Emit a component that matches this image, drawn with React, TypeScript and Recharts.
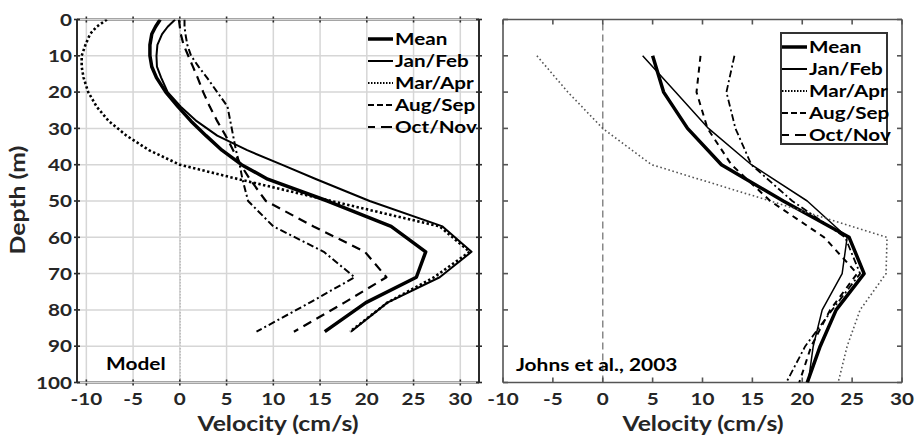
import React from 'react';
import { LineChart, Line, XAxis, YAxis, ReferenceLine } from 'recharts';

// ---------- Data: Model panel ----------
const modelDepth = [0, 2, 4, 7, 10, 13, 16, 20, 24, 28, 32, 36, 40, 44, 50, 57, 64, 71, 78, 86];
const modelMean = [-2.1, -2.6, -3.0, -3.2, -3.2, -3.0, -2.5, -1.5, -0.2, 1.2, 2.8, 4.5, 6.6, 9.4, 15.8, 22.6, 26.3, 25.3, 19.9, 15.5];
const modelJanFeb = [-0.5, -1.3, -1.9, -2.4, -2.5, -2.45, -2.0, -1.3, 0.1, 1.8, 4.0, 7.2, 10.9, 14.6, 20.3, 28.1, 31.2, 27.8, 22.2, 18.3];
const modelMarApr = [-7.8, -8.9, -9.6, -10.1, -10.5, -10.5, -10.3, -9.8, -8.9, -7.6, -5.7, -3.3, 0.0, 6.3, 16.2, 27.8, 31.0, 27.2, 22.2, 18.2];
const modelAugSep = [0.5, 0.5, 0.6, 0.8, 1.2, 2.0, 2.9, 4.0, 5.1, 5.4, 5.7, 6.0, 6.4, 6.7, 7.3, 10.0, 15.4, 18.7, 13.9, 8.2];
const modelOctNov = [-0.1, 0.0, 0.1, 0.4, 0.9, 1.4, 1.9, 2.5, 3.2, 4.0, 4.9, 5.7, 6.5, 7.5, 9.2, 14.3, 19.8, 22.1, 17.6, 12.2];

// ---------- Data: Johns et al., 2003 panel ----------
const obsDepth = [10, 20, 30, 40, 50, 60, 70, 80, 90, 100];
const obsMean = [5.0, 6.1, 8.5, 11.9, 18.1, 24.7, 26.2, 23.4, 21.8, 20.5];
const obsJanFeb = [4.0, 7.3, 10.6, 14.9, 20.5, 24.5, 24.0, 22.0, 21.1, 20.6];
const obsMarApr = [-6.6, -3.5, 0.0, 4.9, 16.8, 28.5, 28.4, 25.8, 24.5, 23.6];
const obsAugSep = [13.2, 12.4, 13.3, 14.9, 19.0, 24.3, 25.8, 23.0, 20.3, 18.4];
const obsOctNov = [9.8, 9.4, 10.5, 12.9, 16.8, 22.2, 25.5, 22.8, 20.9, 19.7];

const seriesKeys = ['mean', 'janfeb', 'marapr', 'augsep', 'octnov'];
const seriesNames = ['Mean', 'Jan/Feb', 'Mar/Apr', 'Aug/Sep', 'Oct/Nov'];
const xTicks = [-10, -5, 0, 5, 10, 15, 20, 25, 30];
const depthTicks = [0, 10, 20, 30, 40, 50, 60, 70, 80, 90, 100];

const modelRows = modelDepth.map((d, i) => ({
  depth: d, mean: modelMean[i], janfeb: modelJanFeb[i], marapr: modelMarApr[i], augsep: modelAugSep[i], octnov: modelOctNov[i],
}));
const obsRows = obsDepth.map((d, i) => ({
  depth: d, mean: obsMean[i], janfeb: obsJanFeb[i], marapr: obsMarApr[i], augsep: obsAugSep[i], octnov: obsOctNov[i],
}));

const FONT = 'Lato, "Open Sans", sans-serif';
const SX = 1.18;
const TXT = '#262626';
const GRID = '#d6d6d6';

const modelStyle: Record<string, any> = {
  mean: { w: 3.5, color: '#000' },
  janfeb: { w: 2, color: '#000' },
  marapr: { w: 2.6, dash: '2.4 2.4', color: '#000' },
  augsep: { w: 2, dash: '7 3 2 3', color: '#000' },
  octnov: { w: 2.2, dash: '9 6', color: '#000' },
};
const obsStyle: Record<string, any> = {
  mean: { w: 3.5, color: '#000' },
  janfeb: { w: 1.5, color: '#000' },
  marapr: { w: 1.6, dash: '1.6 2.6', color: '#555' },
  augsep: { w: 1.8, dash: '7 3 2 3', color: '#000' },
  octnov: { w: 2, dash: '6 5', color: '#000' },
};
const legendDash: Record<string, any> = {
  mean: { w: 3.5 },
  janfeb: { w: 2 },
  marapr: { w: 2, dash: '1.5 1.5' },
  augsep: { w: 2, dash: '6 3' },
  octnov: { w: 2, dash: '7 6 11' },
};

function STxt({ x, y, anchor = 'middle', size = 17.5, fill = TXT, rotate = 0, children }: any) {
  return (
    <text
      transform={`translate(${x},${y}) rotate(${rotate}) scale(${SX},1)`}
      textAnchor={anchor}
      fontFamily={FONT}
      fontWeight={700}
      fontSize={size}
      fill={fill}
    >
      {children}
    </text>
  );
}

// Tick renderer: draws the tick mark, the label and (optionally) the gridline across the plot.
const makeTick = (side: string, mode: string, label: boolean, color: string, gridLen: number) => (props: any) => {
  const { x, y, payload } = props;
  let l: any;
  const len = mode === 'cross' ? 3 : 5;
  if (side === 'bottom') l = mode === 'cross' ? [x, y - len, x, y + len] : [x, y - len, x, y];
  else if (side === 'top') l = mode === 'cross' ? [x, y - len, x, y + len] : [x, y, x, y + len];
  else if (side === 'left') l = mode === 'cross' ? [x - len, y, x + len, y] : [x, y, x + len, y];
  else l = mode === 'cross' ? [x - len, y, x + len, y] : [x - len, y, x, y];
  return (
    <g>
      {gridLen > 0 && side === 'bottom' && (
        <line x1={x} x2={x} y1={y - 1} y2={y - gridLen + 1} stroke={GRID} strokeWidth={1.5} />
      )}
      {gridLen > 0 && side === 'left' && (
        <line x1={x + 1} x2={x + gridLen - 1} y1={y} y2={y} stroke={GRID} strokeWidth={1.5} />
      )}
      <line x1={l[0]} y1={l[1]} x2={l[2]} y2={l[3]} stroke={color} strokeWidth={1.6} />
      {label && side === 'bottom' && <STxt x={x} y={y + 22.5}>{String(payload.value)}</STxt>}
      {label && side === 'left' && <STxt x={x - 5} y={y + 6.2} anchor="end">{String(payload.value)}</STxt>}
    </g>
  );
};

// Frame: axes, ticks, labels, gridlines, zero line (drawn underneath the series)
function Frame({ rows, domain, plot, mode, axisColor, axisWidth, grid, zeroLine }: any) {
  const [l, t, r, b] = plot;
  const gx = grid ? b - t : 0;
  const gy = grid ? r - l : 0;
  return (
    <LineChart width={917} height={436} layout="vertical" data={rows} margin={{ top: 0, right: 0, bottom: 0, left: 0 }}>
      <XAxis xAxisId="b" type="number" orientation="bottom" domain={domain} ticks={xTicks} interval={0}
        height={436 - b} tickSize={0} tickMargin={0} tickLine={false}
        axisLine={{ stroke: axisColor, strokeWidth: axisWidth }} tick={makeTick('bottom', mode, true, axisColor, gx)} allowDataOverflow />
      <XAxis xAxisId="t" type="number" orientation="top" domain={domain} ticks={xTicks} interval={0}
        height={t} tickSize={0} tickMargin={0} tickLine={false}
        axisLine={{ stroke: axisColor, strokeWidth: axisWidth }} tick={makeTick('top', mode, false, axisColor, 0)} allowDataOverflow />
      <YAxis yAxisId="l" type="number" dataKey="depth" orientation="left" domain={[0, 100]} ticks={depthTicks} interval={0}
        width={l} tickSize={0} tickMargin={0} tickLine={false}
        axisLine={{ stroke: axisColor, strokeWidth: axisWidth }} tick={makeTick('left', mode, mode === 'cross', axisColor, gy)} allowDataOverflow />
      <YAxis yAxisId="r" type="number" dataKey="depth" orientation="right" domain={[0, 100]} ticks={depthTicks} interval={0}
        width={917 - r} tickSize={0} tickMargin={0} tickLine={false}
        axisLine={{ stroke: axisColor, strokeWidth: axisWidth }} tick={makeTick('right', mode, false, axisColor, 0)} allowDataOverflow />
      <ReferenceLine xAxisId="b" yAxisId="l" x={0} stroke={zeroLine.color} strokeWidth={zeroLine.w} strokeDasharray={zeroLine.dash} />
    </LineChart>
  );
}

// Series layer: the profile lines, on top of the frame, same plot area
function Series({ rows, styles, domain, plot }: any) {
  const [l, t, r, b] = plot;
  return (
    <LineChart width={917} height={436} layout="vertical" data={rows}
      margin={{ top: t, right: 917 - r, bottom: 436 - b, left: l }}>
      <XAxis xAxisId="b" type="number" domain={domain} hide allowDataOverflow />
      <YAxis yAxisId="l" type="number" dataKey="depth" domain={[0, 100]} hide allowDataOverflow />
      {seriesKeys.map((k) => (
        <Line key={k} xAxisId="b" yAxisId="l" type="linear" dataKey={k} stroke={styles[k].color}
          strokeWidth={styles[k].w} strokeDasharray={styles[k].dash} dot={false} activeDot={false}
          strokeLinejoin="round" isAnimationActive={false} />
      ))}
    </LineChart>
  );
}

function LegendBlock({ x, y, step, box }: any) {
  return (
    <g>
      {box && <rect x={box[0]} y={box[1]} width={box[2]} height={box[3]} fill="#fff" stroke="#333" strokeWidth={2} />}
      {seriesKeys.map((k, i) => (
        <g key={k}>
          <line x1={x} x2={x + 25} y1={y + i * step} y2={y + i * step} stroke="#000"
            strokeWidth={legendDash[k].w} strokeDasharray={legendDash[k].dash} />
          <STxt x={x + 27} y={y + i * step + 6} anchor="start" size={17.5} fill="#000">{seriesNames[i]}</STxt>
        </g>
      ))}
    </g>
  );
}

const abs: any = { position: 'absolute', left: 0, top: 0 };
const leftPlot = [77, 19.5, 479, 382.5];
const rightPlot = [503, 19.5, 902, 382.5];

export default function App() {
  return (
    <div style={{ ...abs, width: 917, height: 436, background: '#fff' }}>
      <div style={abs}>
        <Frame rows={modelRows} domain={[-11, 32]} plot={leftPlot}
          mode="cross" axisColor="#2b2b2b" axisWidth={2} grid={true}
          zeroLine={{ color: '#222', w: 1.2, dash: '1.5 1.5' }} />
      </div>
      <div style={abs}>
        <Frame rows={obsRows} domain={[-10, 30]} plot={rightPlot}
          mode="in" axisColor="#555" axisWidth={1.6} grid={false}
          zeroLine={{ color: '#888', w: 1.5, dash: '7 4' }} />
      </div>
      <div style={abs}>
        <Series rows={modelRows} styles={modelStyle} domain={[-11, 32]} plot={leftPlot} />
      </div>
      <div style={abs}>
        <Series rows={obsRows} styles={obsStyle} domain={[-10, 30]} plot={rightPlot} />
      </div>
      <svg width={917} height={436} style={{ ...abs, pointerEvents: 'none' }}>
        <STxt x={25} y={200} rotate={-90} size={21}>Depth (m)</STxt>
        <STxt x={278} y={431} size={21}>Velocity (cm/s)</STxt>
        <STxt x={703} y={431} size={21}>Velocity (cm/s)</STxt>
        <STxt x={106} y={370} anchor="start" size={17.7} fill="#000">Model</STxt>
        <STxt x={516} y={370.5} anchor="start" size={17.7} fill="#000">Johns et al., 2003</STxt>
        <LegendBlock x={368} y={39} step={22} />
        <LegendBlock x={782} y={47} step={22} box={[781, 33, 106, 111]} />
      </svg>
    </div>
  );
}
